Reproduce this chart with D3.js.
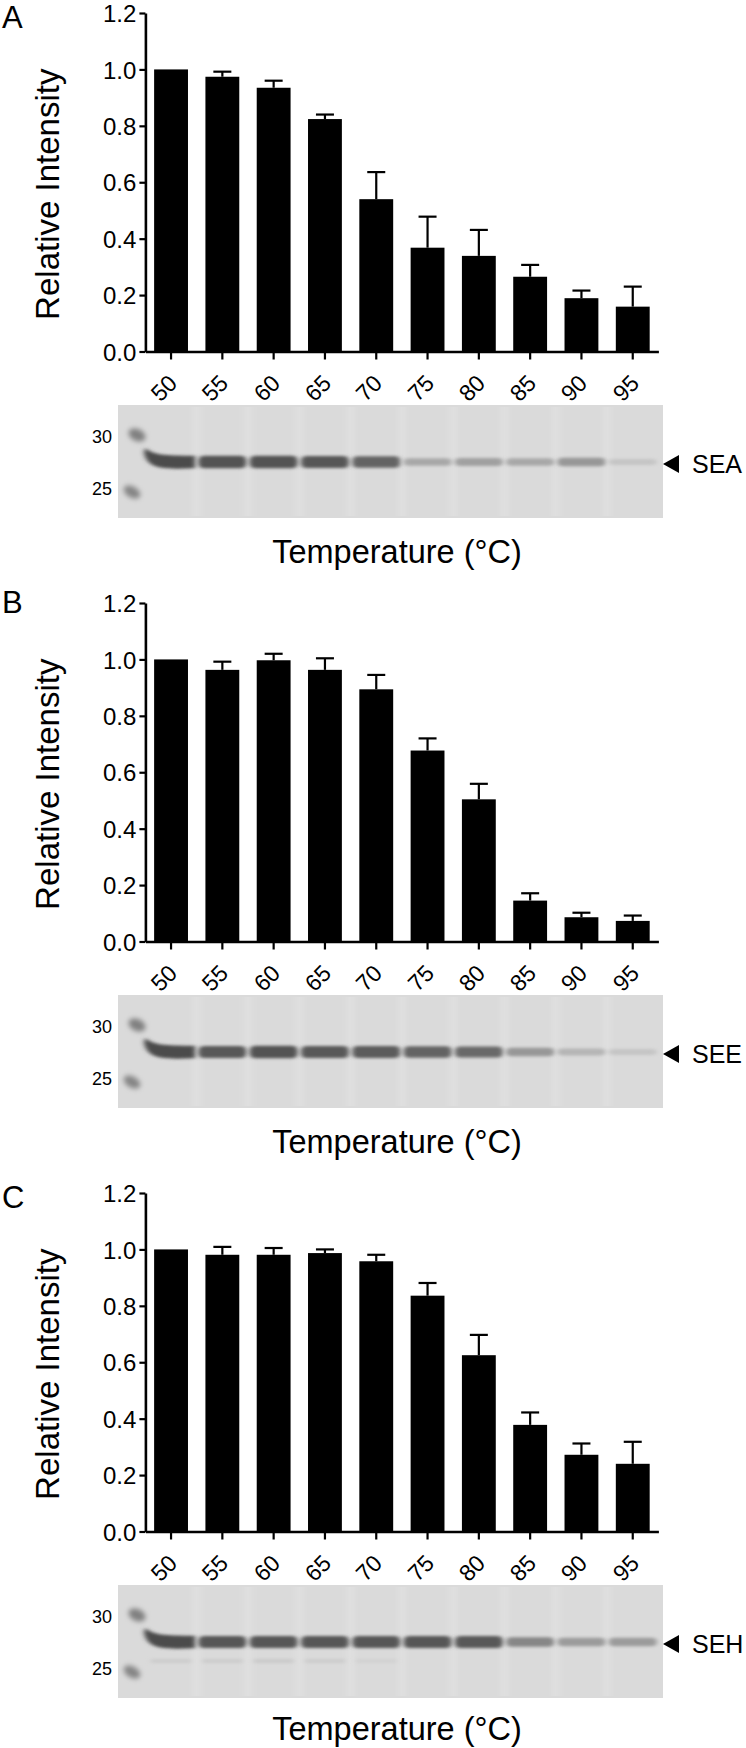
<!DOCTYPE html>
<html><head><meta charset="utf-8">
<script src="https://cdn.jsdelivr.net/npm/d3@7"></script>
<style>
body{margin:0;background:#fff}
#wrap{position:relative;width:746px;height:1748px}
svg{display:block;position:absolute;left:0;top:0}
text{font-family:"Liberation Sans",Arial,Helvetica,sans-serif;fill:#000}
.xlab{position:absolute;font-family:"Liberation Sans",Arial,Helvetica,sans-serif;font-size:23px;color:#000;
  width:40px;height:24px;line-height:24px;text-align:right;white-space:nowrap;
  transform-origin:100% 50%;transform:rotate(-45deg)}
</style>
</head><body>
<div id="wrap"><svg id="chart" width="746" height="1748"></svg></div>
<script>
// ---------- data ----------
const temperatures = ["50","55","60","65","70","75","80","85","90","95"];
const yTickValues = [0, 0.2, 0.4, 0.6, 0.8, 1.0, 1.2];
const panelLetters = ["A","B","C"];
const proteinNames = ["SEA","SEE","SEH"];
const markerLabels = ["30","25"];
const xTitle = "Temperature (°C)";
const yTitle = "Relative Intensity";

const seaMean = [1.0, 0.974, 0.935, 0.824, 0.540, 0.368, 0.339, 0.265, 0.189, 0.159];
const seaErr  = [0.0, 0.018, 0.025, 0.016, 0.096, 0.110, 0.092, 0.042, 0.027, 0.071];
const seeMean = [1.0, 0.963, 0.997, 0.963, 0.894, 0.677, 0.504, 0.145, 0.086, 0.073];
const seeErr  = [0.0, 0.029, 0.023, 0.041, 0.051, 0.043, 0.055, 0.026, 0.016, 0.019];
const sehMean = [1.0, 0.981, 0.981, 0.987, 0.958, 0.836, 0.625, 0.378, 0.272, 0.240];
const sehErr  = [0.0, 0.028, 0.024, 0.013, 0.023, 0.045, 0.072, 0.044, 0.040, 0.078];

// gel band darkness per lane (0 = none, 1 = darkest)
const seaBand = [0.86, 0.82, 0.82, 0.80, 0.72, 0.30, 0.35, 0.30, 0.40, 0.12];
const seeBand = [0.86, 0.78, 0.82, 0.78, 0.76, 0.72, 0.68, 0.40, 0.22, 0.12];
const sehBand = [0.86, 0.80, 0.80, 0.80, 0.80, 0.80, 0.78, 0.50, 0.38, 0.38];
const sehMinorBand = [0.08, 0.08, 0.09, 0.08, 0.05, 0.0, 0.0, 0.0, 0.0, 0.0];

const panels = [
  {letter: panelLetters[0], name: proteinNames[0], mean: seaMean, err: seaErr, band: seaBand, minor: null},
  {letter: panelLetters[1], name: proteinNames[1], mean: seeMean, err: seeErr, band: seeBand, minor: null},
  {letter: panelLetters[2], name: proteinNames[2], mean: sehMean, err: sehErr, band: sehBand, minor: sehMinorBand}
];

// ---------- layout ----------
const svg = d3.select("#chart");
const wrap = d3.select("#wrap");
const panelStep = 590;
const letterShift = [0, -5, 0];
const titleShift = [0, 0, -3];
const axisLeftX = 145.4, axisRightX = 658.4;
const yTop = 13, yBottom = 351.5;

const x = d3.scaleBand().domain(temperatures).range([axisLeftX, axisRightX]).paddingInner(0.34).paddingOuter(0.17);
const y = d3.scaleLinear().domain([0, 1.2]).range([yBottom, yTop]);
const bandShade = d3.scaleLinear().domain([0, 1]).range(["#d9d9d9", "#353535"]).interpolate(d3.interpolateRgb);

const defs = svg.append("defs");
const blur = defs.append("filter").attr("id","blur").attr("x","-30%").attr("y","-80%").attr("width","160%").attr("height","260%");
blur.append("feGaussianBlur").attr("stdDeviation", "2.4 1.7");
const blurSoft = defs.append("filter").attr("id","blurSoft").attr("x","-50%").attr("y","-100%").attr("width","200%").attr("height","300%");
blurSoft.append("feGaussianBlur").attr("stdDeviation", "2.5");
const laneBlur = defs.append("filter").attr("id","laneBlur").attr("x","-100%").attr("y","0").attr("width","300%").attr("height","100%");
laneBlur.append("feGaussianBlur").attr("stdDeviation", "3 0");

panels.forEach((p, i) => {
  const oy = i * panelStep;
  const g = svg.append("g").attr("transform", `translate(0,${oy})`);

  // panel letter
  g.append("text").attr("x", 2).attr("y", 28 + letterShift[i])
    .attr("font-size", 31).text(p.letter);

  // y title
  g.append("text").attr("transform", `translate(59,${(yTop + yBottom) / 2 + 12}) rotate(-90)`)
    .attr("text-anchor", "middle").attr("font-size", 33).text(yTitle);

  // bars
  g.selectAll("rect.bar").data(temperatures).join("rect").attr("class","bar")
    .attr("x", d => x(d)).attr("width", x.bandwidth())
    .attr("y", (d, k) => y(p.mean[k])).attr("height", (d, k) => y(0) - y(p.mean[k]))
    .attr("fill", "#000");

  // error bars (upper only)
  const capW = 18;
  const errData = temperatures.map((t, k) => ({t, m: p.mean[k], e: p.err[k]})).filter(d => d.e > 0);
  const eb = g.selectAll("g.err").data(errData).join("g").attr("class","err");
  eb.append("line")
    .attr("x1", d => x(d.t) + x.bandwidth() / 2).attr("x2", d => x(d.t) + x.bandwidth() / 2)
    .attr("y1", d => y(d.m)).attr("y2", d => y(d.m + d.e))
    .attr("stroke", "#000").attr("stroke-width", 2.2);
  eb.append("line")
    .attr("x1", d => x(d.t) + x.bandwidth() / 2 - capW / 2).attr("x2", d => x(d.t) + x.bandwidth() / 2 + capW / 2)
    .attr("y1", d => y(d.m + d.e)).attr("y2", d => y(d.m + d.e))
    .attr("stroke", "#000").attr("stroke-width", 2.2);

  // y axis
  const ya = g.append("g").attr("transform", `translate(${axisLeftX},0)`)
    .call(d3.axisLeft(y).tickValues(yTickValues).tickFormat(d3.format(".1f")).tickSize(6).tickSizeOuter(0).tickPadding(3));
  ya.attr("font-family", null).attr("font-size", null);
  ya.select(".domain").attr("stroke-width", 2.6);
  ya.selectAll(".tick line").attr("stroke-width", 2.2);
  ya.selectAll(".tick text").attr("font-size", 24).attr("dy", "0.36em");

  // x axis (ticks only; labels are rotated HTML text placed from the same scale)
  const xa = g.append("g").attr("transform", `translate(0,${yBottom})`)
    .call(d3.axisBottom(x).tickSize(8).tickSizeOuter(0).tickFormat(""));
  xa.select(".domain").attr("stroke-width", 2.6);
  xa.selectAll(".tick line").attr("stroke-width", 2.2);
  wrap.selectAll(`div.xlab.p${i}`).data(temperatures).join("div").attr("class", `xlab p${i}`)
    .style("left", d => `${x(d) + x.bandwidth() / 2 + 2 - 40}px`)
    .style("top", `${oy + yBottom + 27 - 12}px`)
    .text(d => d);

  // ---------- gel ----------
  const gx0 = 118, gx1 = 663, gy0 = 405, gy1 = 518, bandY = 462;
  const gel = g.append("g");
  gel.append("rect").attr("x", gx0).attr("y", gy0).attr("width", gx1 - gx0).attr("height", gy1 - gy0).attr("fill", "#dadada");
  gel.selectAll("rect.gap").data(temperatures.slice(1)).join("rect").attr("class","gap")
    .attr("x", d => x(d) - x.step() * 0.17 - 3).attr("width", 6)
    .attr("y", gy0 + 2).attr("height", gy1 - gy0 - 4)
    .attr("fill", "#e1e1e1").attr("filter", "url(#laneBlur)");
  gel.append("ellipse").attr("cx", 137).attr("cy", 435).attr("rx", 9).attr("ry", 6)
    .attr("transform", "rotate(25,137,435)").attr("fill", "#808080").attr("filter", "url(#blurSoft)");
  gel.append("ellipse").attr("cx", 132).attr("cy", 492).attr("rx", 9).attr("ry", 5.5)
    .attr("transform", "rotate(30,132,492)").attr("fill", "#858585").attr("filter", "url(#blurSoft)");
  const bandPath = (cx, k, v) => {
    const h = 5 + 9 * v, w = 24;
    if (k === 0) {
      return `M${cx - w - 2},${bandY - h / 2 - 8} C${cx - w + 6},${bandY - h / 2 - 1} ${cx - 8},${bandY - h / 2} ${cx + w},${bandY - h / 2}`
        + ` L${cx + w},${bandY + h / 2} C${cx - 10},${bandY + h / 2 + 1} ${cx - w},${bandY + h / 2} ${cx - w - 3},${bandY - h / 2 - 3} Z`;
    }
    return `M${cx - w + 5},${bandY - h / 2} L${cx + w - 5},${bandY - h / 2} Q${cx + w},${bandY - h / 2} ${cx + w},${bandY}`
      + ` Q${cx + w},${bandY + h / 2} ${cx + w - 5},${bandY + h / 2} L${cx - w + 5},${bandY + h / 2}`
      + ` Q${cx - w},${bandY + h / 2} ${cx - w},${bandY} Q${cx - w},${bandY - h / 2} ${cx - w + 5},${bandY - h / 2} Z`;
  };
  gel.selectAll("path.band").data(temperatures).join("path").attr("class","band")
    .attr("d", (d, k) => bandPath(x(d) + x.bandwidth() / 2, k, p.band[k]))
    .attr("fill", (d, k) => bandShade(p.band[k]))
    .attr("filter", "url(#blur)");
  if (p.minor) {
    gel.selectAll("rect.minor").data(temperatures).join("rect").attr("class","minor")
      .attr("x", d => x(d) + x.bandwidth() / 2 - 20).attr("width", 40)
      .attr("y", bandY + 17).attr("height", 4)
      .attr("fill", (d, k) => bandShade(p.minor[k])).attr("opacity", (d, k) => p.minor[k] > 0 ? 1 : 0)
      .attr("filter", "url(#blur)");
  }
  gel.selectAll("text.mk").data(markerLabels).join("text").attr("class","mk")
    .attr("x", 112).attr("y", (d, k) => [436.5, 488.5][k]).attr("dy", "0.36em")
    .attr("text-anchor", "end").attr("font-size", 18).attr("fill", "#222").text(d => d);
  gel.append("path").attr("d", d3.line()([[663, bandY + 2], [679, bandY - 7], [679, bandY + 11]]) + "Z").attr("fill", "#000");
  gel.append("text").attr("x", 692).attr("y", bandY + 11).attr("font-size", 25).text(p.name);

  // x title
  g.append("text").attr("x", 397).attr("y", 563 + titleShift[i]).attr("text-anchor", "middle")
    .attr("font-size", 32.5).text(xTitle);
});
</script>
</body></html>
